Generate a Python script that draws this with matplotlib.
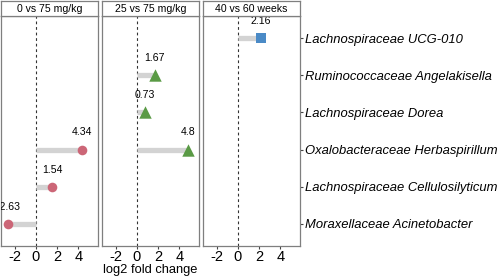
import numpy as np
import matplotlib
matplotlib.use("Agg")
import matplotlib.pyplot as plt

taxa = ["Moraxellaceae Acinetobacter", "Lachnospiraceae Cellulosilyticum",
        "Oxalobacteraceae Herbaspirillum", "Lachnospiraceae Dorea",
        "Ruminococcaceae Angelakisella", "Lachnospiraceae UCG-010"]
panels = ["0 vs 75 mg/kg", "25 vs 75 mg/kg", "40 vs 60 weeks"]

# (panel index, taxon index, log2 fold change)
p_idx = [0, 0, 0, 1, 1, 1, 2]
t_idx = [0, 1, 2, 2, 3, 4, 5]
lfc = [-2.63, 1.54, 4.34, 4.8, 0.73, 1.67, 2.16]

marker_of = ["o", "^", "s"]
color_of = ["#cc6677", "#5a9a45", "#4a8ac6"]
size_of = [48, 80, 55]

plt.rcParams['font.family'] = ['Liberation Sans', 'DejaVu Sans']
plt.rcParams['axes.unicode_minus'] = False

fig = plt.figure(figsize=(4.98, 2.78), dpi=100)
W, H = 498.0, 278.0
lefts = [1, 102, 203]
pw = 97
top, bot = 16, 246
axes = []
for k in range(3):
    ax = fig.add_axes([lefts[k] / W, 1 - bot / H, pw / W, (bot - top) / H])
    ax.set_xlim(-3.3, 5.85)
    ax.set_ylim(0.4, 6.6)
    ax.axvline(0, color="#333333", ls=(0, (2.5, 2.5)), lw=0.8, zorder=1)
    for sp in ax.spines.values():
        sp.set_color("#7f7f7f")
        sp.set_linewidth(0.9)
    ax.set_xticks([-2, 0, 2, 4])
    ax.tick_params(axis="x", labelsize=10.5, length=2.5, color="#444444", pad=0.5)
    ax.set_yticks(range(1, 7))
    if k < 2:
        ax.tick_params(axis="y", left=False, labelleft=False)
    else:
        ax.yaxis.tick_right()
        ax.set_yticklabels(taxa, fontstyle="italic", fontsize=9.4)
        ax.tick_params(axis="y", length=2.5, color="#444444", pad=1)
    # strip header
    sax = fig.add_axes([lefts[k] / W, 1 - top / H, pw / W, 15 / H])
    sax.set_xticks([])
    sax.set_yticks([])
    for sp in sax.spines.values():
        sp.set_color("#7f7f7f")
        sp.set_linewidth(0.9)
    sax.text(0.5, 0.5, panels[k], ha="center", va="center", fontsize=7.6,
             transform=sax.transAxes)
    axes.append(ax)

for p, t, v in zip(p_idx, t_idx, lfc):
    ax = axes[p]
    y = t + 1
    ax.plot([0, v], [y, y], color="#d3d3d3", lw=3.8, solid_capstyle="butt", zorder=2)
    ax.scatter([v], [y], marker=marker_of[p], s=size_of[p], color=color_of[p],
               zorder=3, clip_on=False, linewidths=0)
    ax.text(v, y + 0.46, f"{v:g}", ha="center", va="center", fontsize=7.6,
            clip_on=True, zorder=4)

fig.text((lefts[1] + pw / 2) / W, 1 - 270 / H, "log2 fold change", ha="center",
         va="center", fontsize=9.3)

fig.savefig("out.png", dpi=100)
